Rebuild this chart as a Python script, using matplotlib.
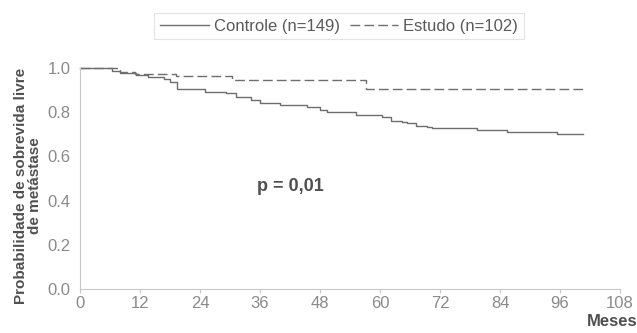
import numpy as np
import matplotlib
matplotlib.use("Agg")
import matplotlib.pyplot as plt

plt.rcParams['font.family'] = ['Liberation Sans', 'DejaVu Sans']

# Kaplan-Meier curves (meses, sobrevida livre de metástase)
t_controle = [0, 6.3, 7.9, 11.2, 13.6, 16.8, 18.0, 19.3, 25.0, 29.1, 31.1, 34.1, 36.0,
              40.0, 45.3, 48.0, 49.3, 55.2, 60.3, 62.2, 64.3, 65.3, 67.2, 69.3, 70.3,
              79.3, 85.3, 95.3, 100.5]
s_controle = [1.0, 0.988, 0.977, 0.968, 0.958, 0.949, 0.936, 0.905, 0.892, 0.885, 0.867,
              0.854, 0.842, 0.833, 0.824, 0.810, 0.800, 0.786, 0.778, 0.762, 0.754, 0.750,
              0.739, 0.733, 0.727, 0.720, 0.709, 0.701, 0.701]

t_estudo = [0, 8.0, 11.0, 19.2, 30.3, 57.2, 100.5]
s_estudo = [1.0, 0.984, 0.972, 0.962, 0.944, 0.904, 0.904]

xticks = [0, 12, 24, 36, 48, 60, 72, 84, 96, 108]
yticks = [0.0, 0.2, 0.4, 0.6, 0.8, 1.0]

cor_linha = '#6e6e6e'
cor_eixo = '#c8c8c8'

fig = plt.figure(figsize=(6.37, 3.33), dpi=100)
ax = fig.add_axes([80/637, 44/333, 540/637, 221/333])

l1, = ax.step(t_controle, s_controle, where='post', color=cor_linha, lw=1.0,
              clip_on=False)
l2, = ax.step(t_estudo, s_estudo, where='post', color=cor_linha, lw=1.0,
              dashes=(7, 3), clip_on=False)

ax.set_xlim(0, 108)
ax.set_ylim(0, 1.0)
ax.set_xticks(xticks)
ax.set_yticks(yticks)
ax.set_yticklabels([f'{v:.1f}' for v in yticks])

for s in ['top', 'right']:
    ax.spines[s].set_visible(False)
for s in ['left', 'bottom']:
    ax.spines[s].set_color(cor_eixo)
    ax.spines[s].set_linewidth(0.8)
ax.tick_params(axis='both', colors=cor_eixo, labelcolor='#8a8a8a', labelsize=12,
               length=3, width=0.8)
ax.tick_params(axis='x', pad=2)
ax.tick_params(axis='y', length=0, pad=7)

ax.text(42, 0.466, 'p = 0,01', fontsize=13, fontweight='bold', color='#505050',
        ha='center', va='center')

fig.text(612/637, 1 - 322/333, 'Meses', fontsize=12, fontweight='bold',
         color='#505050', ha='center', va='center')
fig.text(28/637, 1 - 186/333, 'Probabilidade de sobrevida livre\nde metástase',
         rotation=90, fontsize=11, fontweight='bold', color='#505050',
         ha='center', va='center', multialignment='center', linespacing=1.0)

leg = fig.legend([l1, l2], ['Controle (n=149)', 'Estudo (n=102)'], loc='center',
                 bbox_to_anchor=(339/637, 1 - 26/333), ncol=2, fontsize=12,
                 frameon=True, fancybox=False, handlelength=2.9,
                 handletextpad=0.3, columnspacing=0.6, borderpad=0.35)
leg.get_frame().set_edgecolor('#dcdcdc')
leg.get_frame().set_linewidth(0.8)
for txt in leg.get_texts():
    txt.set_color('#5a5a5a')

fig.savefig('out.png', dpi=100)
